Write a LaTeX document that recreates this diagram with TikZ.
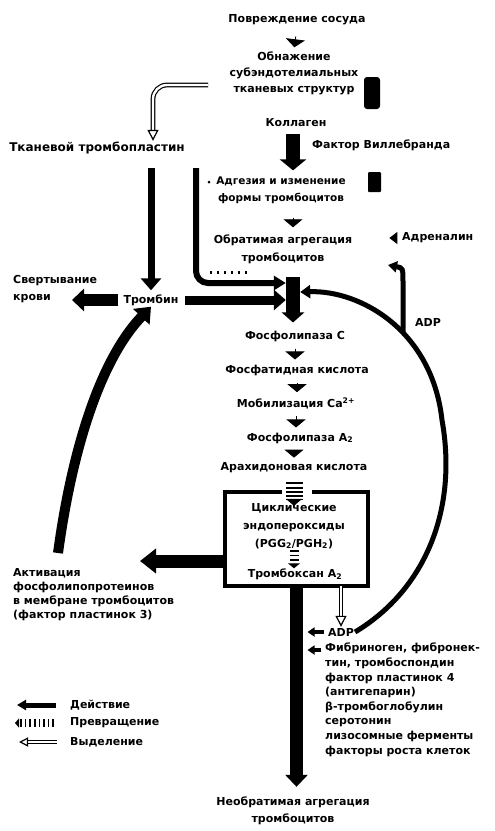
\documentclass[tikz,border=0pt]{standalone}
\usepackage{fontspec}
\setmainfont{DejaVu Sans}
\usetikzlibrary{arrows.meta,calc}
\tikzset{
  lbl/.style={font=\bfseries\fontsize{11}{16}\selectfont, align=center, inner sep=1pt},
  tri/.style={line width=0.8pt, -{Triangle[width=19pt,length=8pt]}},
  trismall/.style={line width=1.2pt, -{Triangle[width=12pt,length=8pt]}},
  bigar/.style={line width=14pt, -{Triangle[width=26pt,length=11pt]}},
  medar/.style={line width=7pt, -{Triangle[width=20pt,length=12pt]}},
  elbow/.style={line width=6pt, -{Triangle[width=14pt,length=12pt]}},
  curv/.style={line width=5pt, -{Triangle[width=13pt,length=10pt]}},
  curvbig/.style={line width=10pt, -{Triangle[width=22pt,length=14pt]}},
  smallar/.style={line width=4pt, -{Triangle[width=9pt,length=7pt]}},
  hollow/.style={double=white, double distance=2.4pt, line width=1.2pt, -{Triangle[open, fill=white, width=11pt, length=11pt, line width=1.2pt]}},
  conv/.style={line width=17pt, dash pattern=on 2pt off 2.2pt, -{Triangle[width=16pt,length=7pt]}},
  convsmall/.style={line width=9pt, dash pattern=on 1.6pt off 3pt, -{Triangle[width=12pt,length=5pt]}},
}
\begin{document}
\begin{tikzpicture}[x=1pt,y=-1pt]
\useasboundingbox (0,0) rectangle (495,831);

% nodes
\node[lbl] (n1) at (297,20) {Повреждение сосуда};
\node[lbl] (n2) at (294,73) {Обнажение\\субэндотелиальных\\тканевых структур};
\node[lbl] (kol) at (296,123) {Коллаген};
\node[lbl, anchor=west] (fw) at (311,145) {Фактор Виллебранда};
\node[lbl, font=\bfseries\fontsize{12}{16}\selectfont] (tt) at (97,148) {Тканевой тромбопластин};
\node[lbl, font=\bfseries\fontsize{10.5}{17}\selectfont] (adh) at (281,190) {Адгезия и изменение\\формы тромбоцитов};
\node[lbl, font=\bfseries\fontsize{11}{18}\selectfont] (obr) at (283,249) {Обратимая агрегация\\тромбоцитов};
\node[lbl, anchor=west] (adr) at (401,238) {Адреналин};
\node[lbl, anchor=west, align=left, font=\bfseries\fontsize{11}{17}\selectfont] (svk) at (12,289) {Свертывание\\крови};
\node[lbl] (trm) at (151,300) {Тромбин};
\node[minimum width=14pt, minimum height=30pt, inner sep=0pt] (hub) at (293,292) {};
\node[lbl] (fosC) at (295,336) {Фосфолипаза С};
\node[lbl] (fk) at (297,370) {Фосфатидная кислота};
\node[lbl] (mob) at (296,403) {Мобилизация Ca\textsuperscript{2+}};
\node[lbl] (fa2) at (300,438) {Фосфолипаза A\textsubscript{2}};
\node[lbl] (arh) at (294,468) {Арахидоновая кислота};
\node[minimum width=143pt, minimum height=94pt, inner sep=0pt] (box) at (296.5,539) {};
\node[lbl, font=\bfseries\fontsize{11}{18}\selectfont] (cyc) at (294,526) {Циклические\\эндопероксиды\\(PGG\textsubscript{2}/PGH\textsubscript{2})};
\node[lbl] (tbx) at (295,574) {Тромбоксан A\textsubscript{2}};
\node[lbl, anchor=north west, align=left, font=\bfseries\fontsize{11}{14}\selectfont] (akt) at (12,567) {Активация\\фосфолипопротеинов\\в мембране тромбоцитов\\(фактор пластинок 3)};
\node[lbl] (adp1) at (428,322) {ADP};
\node[lbl] (adp2) at (341,632) {ADP};
\node[lbl, anchor=north west, align=left, font=\bfseries\fontsize{11}{14.6}\selectfont] (fib) at (324,642) {Фибриноген, фибронек-\\тин, тромбоспондин\\фактор пластинок 4\\(антигепарин)\\β-тромбоглобулин\\серотонин\\лизосомные ферменты\\факторы роста клеток};
\node[lbl, font=\bfseries\fontsize{11}{17}\selectfont] (neo) at (293,811) {Необратимая агрегация\\тромбоцитов};
\node[lbl, anchor=west] (lg1) at (69,705) {Действие};
\node[lbl, anchor=west] (lg2) at (69,723) {Превращение};
\node[lbl, anchor=west] (lg3) at (69,742) {Выделение};

% free ends
\coordinate (hs) at (208,85);
\coordinate (e1) at (196,168);
\coordinate (svtip) at (72,300);
\coordinate (j) at (403,333);
\coordinate (jtip) at (388,265);
\coordinate (aktip) at (140,561);
\coordinate (c1) at (58,553);
\coordinate (d1) at (247,272);
\coordinate (d2) at (207,272);
\coordinate (l1e) at (17,705);
\coordinate (l2e) at (15,723);
\coordinate (l3e) at (19,742);
\coordinate (f1) at ($(fib.north west)+(0,8)$);
\coordinate (bx) at ($(box.west)+(0,22)$);

% black fragments
\fill[rounded corners=3pt] (364,77) rectangle (380,109);
\fill[rounded corners=1pt] (368,172) rectangle (381,192);
\fill (209,182) circle (1.5);

% box
\draw[line width=4pt] ($(box.north)+(-15,0)$) -- (box.north west) -- (box.south west) -- (box.south east) -- (box.north east) -- ($(box.north)+(15,0)$);

% connectors
\draw[tri, shorten <=10pt, shorten >=3pt] (n1.south) -- (n2.north);
\draw[hollow, rounded corners=14pt] (hs) -| ($(tt.north)+(56,0)$);
\draw[bigar, shorten <=6pt, shorten >=5pt] (kol.south -| hub) -- (adh.north -| hub);
\draw[tri, shorten <=13pt, shorten >=6pt] (adh.south -| hub) -- (obr.north -| hub);
\draw[trismall, shorten <=5pt, shorten >=36pt] (adr.west) -- (adr.west -| obr.east);
\draw[medar, shorten <=13pt, shorten >=3pt] (tt.south -| trm) -- (trm.north);
\draw[elbow, rounded corners=12pt] (e1) |- ($(hub.west)+(0,-9)$);
\draw[medar, line width=9pt, shorten <=5pt] (trm.east) -- (trm.east -| hub.west);
\draw[medar, line width=12pt, -{Triangle[width=22pt,length=12pt]}, shorten <=4pt] (trm.west) -- (svtip);
\draw[bigar, -{Triangle[width=22pt,length=10pt]}, shorten >=7pt] (hub.north) -- (hub.north |- fosC.north);
\draw[tri, shorten <=6pt, shorten >=4pt] (fosC.south) -- (fosC.south |- fk.north);
\draw[tri, shorten <=6pt, shorten >=4pt] (fk.south) -- (fk.south |- mob.north);
\draw[tri, shorten <=6pt, shorten >=4pt] (mob.south) -- (mob.south |- fa2.north);
\draw[tri, shorten <=6pt, shorten >=4pt] (fa2.south -| arh) -- (arh.north);
\draw[curv] (adp2.east) .. controls (425,590) and (458,510) .. (442,420) .. controls (432,330) and (360,290) .. (hub.east);
\draw[curv, -{Triangle[width=11pt,length=9pt]}] (j) -- (403,282) .. controls (403,268) .. (jtip);
\draw[conv, shorten <=8pt, shorten >=-4pt] (arh.south) -- (cyc.north);
\draw[convsmall, shorten >=-1pt] (cyc.south) -- (cyc.south |- tbx.north);
\draw[bigar, line width=13pt, -{Triangle[width=24pt,length=16pt]}] (bx) -- (aktip);
\draw[curvbig] (c1) .. controls (72,450) and (100,360) .. (trm.south);
\draw[bigar, line width=13pt, -{Triangle[width=22pt,length=12pt]}, shorten >=9pt] (box.south) -- (box.south |- neo.north);
\draw[hollow] (box.south -| adp2) -- (adp2.north);
\draw[smallar, shorten <=3pt, shorten >=11pt] (adp2.west) -- (adp2.west -| box.south);
\draw[smallar, shorten <=3pt, shorten >=11pt] (f1) -- (f1 -| box.south);
\draw[line width=3pt, dash pattern=on 2pt off 5pt] (d1) -- (d2);

% legend
\draw[smallar, line width=5pt, -{Triangle[width=10pt,length=9pt]}, shorten <=13pt] (lg1.west) -- (l1e);
\draw[convsmall, line width=8pt, -{Triangle[width=9pt,length=4pt]}, shorten <=15pt] (lg2.west) -- (l2e);
\draw[hollow, -{Triangle[open, fill=white, width=9pt, length=9pt, line width=1.2pt]}, shorten <=12pt] (lg3.west) -- (l3e);
\end{tikzpicture}
\end{document}
